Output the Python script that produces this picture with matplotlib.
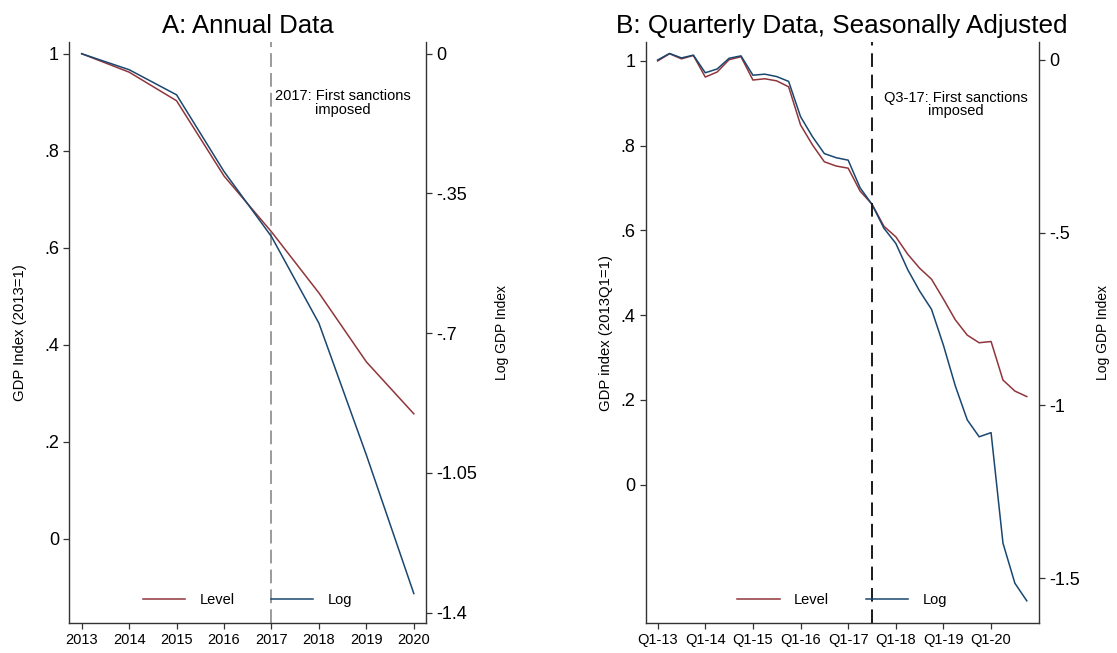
import numpy as np
import matplotlib
matplotlib.use("Agg")
import matplotlib.pyplot as plt

plt.rcParams['font.family'] = ['Liberation Sans', 'DejaVu Sans']

# Panel A: annual data
years = [2013, 2014, 2015, 2016, 2017, 2018, 2019, 2020]
level_annual = [1.0, 0.962, 0.903, 0.748, 0.633, 0.507, 0.365, 0.258]
log_annual = [0.0, -0.040, -0.103, -0.295, -0.458, -0.675, -1.005, -1.352]

# Panel B: quarterly data, Q1-13 .. Q4-20
level_q = [1.000, 1.017, 1.005, 1.013, 0.962, 0.974, 1.003, 1.010,
           0.955, 0.958, 0.953, 0.939, 0.849, 0.802, 0.762, 0.752,
           0.747, 0.693, 0.662, 0.610, 0.585, 0.544, 0.511, 0.485,
           0.438, 0.389, 0.353, 0.335, 0.338, 0.247, 0.221, 0.208]
log_q = [0.000, 0.019, 0.006, 0.014, -0.037, -0.026, 0.005, 0.012,
         -0.044, -0.041, -0.048, -0.062, -0.164, -0.222, -0.271, -0.283,
         -0.290, -0.370, -0.418, -0.487, -0.531, -0.607, -0.669, -0.722,
         -0.826, -0.944, -1.042, -1.091, -1.079, -1.399, -1.515, -1.566]
quarter_labels = ['Q1-13', 'Q1-14', 'Q1-15', 'Q1-16', 'Q1-17', 'Q1-18', 'Q1-19', 'Q1-20']

left_ticks_a = [0, .2, .4, .6, .8, 1]
left_labels_a = ['0', '.2', '.4', '.6', '.8', '1']
right_ticks_a = [0, -.35, -.7, -1.05, -1.4]
right_labels_a = ['0', '-.35', '-.7', '-1.05', '-1.4']
left_ticks_b = [0, .2, .4, .6, .8, 1]
left_labels_b = ['0', '.2', '.4', '.6', '.8', '1']
right_ticks_b = [0, -.5, -1, -1.5]
right_labels_b = ['0', '-.5', '-1', '-1.5']

red = '#90353B'
navy = '#1A476F'
spine_col = '#333333'

fig = plt.figure(figsize=(11.17, 6.53), dpi=100)


def style_axes(ax, ax2):
    for a in (ax, ax2):
        a.spines['top'].set_visible(False)
        for s in a.spines.values():
            s.set_color(spine_col)
            s.set_linewidth(1.0)
    ax.spines['right'].set_visible(False)
    ax2.spines['left'].set_visible(False)
    ax2.spines['bottom'].set_visible(False)
    ax.tick_params(axis='y', direction='out', length=4.5, width=0.9, pad=3,
                   labelsize=13, color=spine_col)
    ax2.tick_params(axis='y', direction='out', length=4.5, width=0.9, pad=3,
                    labelsize=13, color=spine_col)
    ax.tick_params(axis='x', direction='out', length=4, width=0.9, pad=3,
                   labelsize=10.5, color=spine_col)


# ---- Panel A ----
ax = fig.add_axes([0.0621, 0.0455, 0.3192, 0.8897])
ax2 = ax.twinx()
l1, = ax.plot(years, level_annual, color=red, lw=1.1, label='Level')
l2, = ax2.plot(years, log_annual, color=navy, lw=1.1, label='Log')
ax.axvline(2017, color='#808080', lw=1.1, dashes=(9, 4))
ax.set_xlim(2012.74, 2020.255)
ax.set_ylim(-0.1737, 1.0235)
ax2.set_ylim(-1.4265, 0.0286)
ax.set_xticks(years)
ax.set_yticks(left_ticks_a, left_labels_a)
ax2.set_yticks(right_ticks_a, right_labels_a)
style_axes(ax, ax2)
ax.set_title('A: Annual Data', fontsize=18.5, pad=7)
ax.set_ylabel('GDP Index (2013=1)', fontsize=10.7)
ax2.set_ylabel('Log GDP Index', fontsize=10)
ax.yaxis.set_label_coords(-0.1385, 0.5)
ax2.yaxis.set_label_coords(1.2145, 0.5)
ax.yaxis.label.set_va('center')
ax2.yaxis.label.set_va('center')
ax.text(0.766, 0.8955, '2017: First sanctions\nimposed', transform=ax.transAxes,
        ha='center', va='center', fontsize=10.5, linespacing=0.95)
ax2.legend([l1, l2], ['Level', 'Log'], ncol=2, frameon=False, loc='center',
           bbox_to_anchor=(0.5, 0.04), fontsize=10.5, handlelength=2.9,
           handletextpad=1.0, columnspacing=2.5)

# ---- Panel B ----
qx = np.arange(len(level_q))
bx = fig.add_axes([0.5781, 0.0455, 0.3518, 0.8897])
bx2 = bx.twinx()
m1, = bx.plot(qx, level_q, color=red, lw=1.1, label='Level')
m2, = bx2.plot(qx, log_q, color=navy, lw=1.1, label='Log')
bx2.axvline(18, color='#1a1a1a', lw=1.4, dashes=(7, 4))
bx.set_xlim(-1, 32)
bx.set_ylim(-0.327, 1.044)
bx2.set_ylim(-1.631, 0.0512)
bx.set_xticks(np.arange(0, 32, 4), quarter_labels)
bx.set_yticks(left_ticks_b, left_labels_b)
bx2.set_yticks(right_ticks_b, right_labels_b)
style_axes(bx, bx2)
bx.set_title('B: Quarterly Data, Seasonally Adjusted', fontsize=18.8, pad=7)
bx.set_ylabel('GDP index (2013Q1=1)', fontsize=10.7)
bx2.set_ylabel('Log GDP Index', fontsize=10)
bx.yaxis.set_label_coords(-0.101, 0.5)
bx2.yaxis.set_label_coords(1.163, 0.5)
bx.yaxis.label.set_va('center')
bx2.yaxis.label.set_va('center')
bx.text(0.7886, 0.893, 'Q3-17: First sanctions\nimposed', transform=bx.transAxes,
        ha='center', va='center', fontsize=10.5, linespacing=0.95)
bx2.legend([m1, m2], ['Level', 'Log'], ncol=2, frameon=False, loc='center',
           bbox_to_anchor=(0.5, 0.04), fontsize=10.5, handlelength=2.9,
           handletextpad=1.0, columnspacing=2.5)

fig.savefig('out.png', dpi=100, facecolor='white')
